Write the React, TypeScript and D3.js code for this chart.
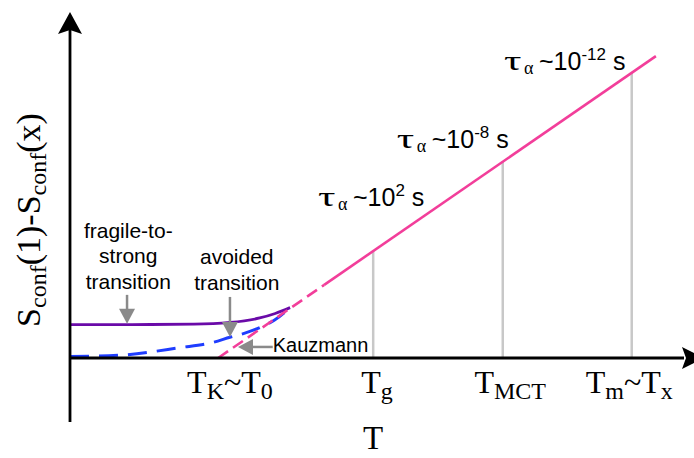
import React from "react";
import * as d3 from "d3";

// ---- data (abstract units: T along x, S along y) ----
const pinkT = [2.39, 4.1, 9.45];
const pinkS = [0, 2.12, 8.75];

const purpleT = [0, 1.0, 2.0, 2.58, 3.06, 3.31, 3.55];
const purpleS = [0.97, 0.97, 0.98, 1.03, 1.16, 1.29, 1.46];

const blueT = [0, 0.8, 1.77, 2.3, 2.58, 2.82, 3.06, 3.3, 3.55];
const blueS = [0.04, 0.08, 0.3, 0.45, 0.6, 0.72, 0.88, 1.1, 1.46];

const guideT = [4.89, 6.98, 9.06];

const tickT = [2.58, 4.95, 7.1, 9.02];
const tickMain = ["T", "T", "T", "T"];
const tickSub = ["K", "g", "MCT", "m"];
const tickTail = ["~T", "", "", "~T"];
const tickTailSub = ["0", "", "", "x"];

const tauT = [4.0, 5.27, 7.0];
const tauS = [4.41, 6.09, 8.35];
const tauExp = ["2", "-8", "-12"];

const W = 694;
const H = 458;

export default function App() {
  const x = d3.scaleLinear().domain([0, 10]).range([70, 690]);
  const y = d3.scaleLinear().domain([0, 10]).range([358, 13]);
  const pinkFn = d3.scaleLinear().domain([pinkT[0], pinkT[2]]).range([pinkS[0], pinkS[2]]);

  const curve = d3
    .line<[number, number]>()
    .x((d) => x(d[0]))
    .y((d) => y(d[1]))
    .curve(d3.curveMonotoneX);
  const straight = d3
    .line<[number, number]>()
    .x((d) => x(d[0]))
    .y((d) => y(d[1]));

  const purple = curve(purpleT.map((t, i) => [t, purpleS[i]] as [number, number])) || "";
  const blue = curve(blueT.map((t, i) => [t, blueS[i]] as [number, number])) || "";
  const pinkDash = straight([[pinkT[0], pinkS[0]], [pinkT[1], pinkS[1]]]) || "";
  const pinkSolid = straight([[pinkT[1], pinkS[1]], [pinkT[2], pinkS[2]]]) || "";

  const axisY = y(0);
  const axisX = x(0);
  const gray = "#8a8a8a";
  const sans = "'Liberation Sans', Arial, sans-serif";
  const serif = "'Liberation Serif', 'Times New Roman', serif";

  const vArrow = (t: number, s0: number, s1: number) => {
    const px = x(t), y0 = y(s0), y1 = y(s1);
    return (
      <g>
        <line x1={px} x2={px} y1={y0} y2={y1 - 13} stroke={gray} strokeWidth={2.5} />
        <path d={`M${px},${y1} L${px - 8},${y1 - 15} L${px + 8},${y1 - 15} Z`} fill={gray} />
      </g>
    );
  };

  return (
    <svg width={W} height={H} style={{ position: "absolute", left: 0, top: 0, background: "#fff" }}>
      <rect width={W} height={H} fill="#fff" />
      {/* guide lines */}
      {guideT.map((t, i) => (
        <line key={i} x1={x(t)} x2={x(t)} y1={axisY} y2={y(pinkFn(t))} stroke="#c8c8c8" strokeWidth={2.5} />
      ))}
      {/* curves */}
      <path d={blue} fill="none" stroke="#1f3dff" strokeWidth={3} strokeDasharray="19 10" />
      <path d={purple} fill="none" stroke="#6a0aa8" strokeWidth={2.8} />
      <path d={pinkDash} fill="none" stroke="#f23e9a" strokeWidth={2.6} strokeDasharray="12 6" />
      <path d={pinkSolid} fill="none" stroke="#f23e9a" strokeWidth={2.6} />

      {/* axes */}
      <line x1={axisX} x2={axisX} y1={422} y2={28} stroke="#000" strokeWidth={2.8} />
      <path d={`M${axisX},12 L${axisX - 12},34 L${axisX},30 L${axisX + 12},34 Z`} fill="#000" />
      <line x1={axisX} x2={684} y1={axisY} y2={axisY} stroke="#000" strokeWidth={2.8} />
      <path d={`M704,${axisY} L682,${axisY - 11} L686,${axisY} L682,${axisY + 11} Z`} fill="#000" />

      {/* tick labels */}
      {tickT.map((t, i) => (
        <text key={i} x={x(t)} y={axisY + 35} textAnchor="middle" fontFamily={serif} fontSize={32} fill="#000">
          {tickMain[i]}
          <tspan fontSize={24} dy={6}>{tickSub[i]}</tspan>
          {tickTail[i] ? (
            <>
              <tspan fontSize={32} dy={-6}>{tickTail[i]}</tspan>
              <tspan fontSize={24} dy={6}>{tickTailSub[i]}</tspan>
            </>
          ) : null}
        </text>
      ))}
      {/* axis titles */}
      <text x={373} y={449} textAnchor="middle" fontFamily={serif} fontSize={33} fill="#000">T</text>
      <text transform="translate(40,220) rotate(-90)" textAnchor="middle" fontFamily={serif} fontSize={34} fill="#000">
        S<tspan fontSize={24} dy={6}>conf</tspan>
        <tspan dy={-6}>(1)-S</tspan>
        <tspan fontSize={24} dy={6}>conf</tspan>
        <tspan dy={-6}>(x)</tspan>
      </text>

      {/* tau labels */}
      {tauT.map((t, i) => (
        <g key={i} transform={`translate(${x(t)},${y(tauS[i])})`}>
          <text x={0} y={0} fontFamily={serif} fontSize={28} fill="#000" transform="scale(1.55,1)">τ</text>
          <text x={20} y={4} fontFamily={serif} fontSize={18} fill="#000">α</text>
          <text x={35} y={0} fontFamily={sans} fontSize={25} fill="#000">
            ~10<tspan fontSize={17} dy={-10}>{tauExp[i]}</tspan>
            <tspan fontSize={25} dy={10}> s</tspan>
          </text>
        </g>
      ))}

      {/* annotations */}
      <g fontFamily={sans} fontSize={21} fill="#000" textAnchor="middle">
        <text x={x(0.94)} y={y(3.48)}>fragile-to-</text>
        <text x={x(0.94)} y={y(2.75)}>strong</text>
        <text x={x(0.94)} y={y(2.0)}>transition</text>
        <text x={x(2.69)} y={y(2.72)}>avoided</text>
        <text x={x(2.69)} y={y(1.97)}>transition</text>
        <text x={x(3.27)} y={y(0.17)} textAnchor="start" fontSize={20}>Kauzmann</text>
      </g>
      {vArrow(0.92, 1.83, 0.99)}
      {vArrow(2.58, 1.77, 0.61)}
      <g>
        <line x1={x(3.27)} x2={x(2.71) + 13} y1={y(0.32)} y2={y(0.32)} stroke={gray} strokeWidth={2.5} />
        <path
          d={`M${x(2.71)},${y(0.32)} L${x(2.71) + 15},${y(0.32) - 8} L${x(2.71) + 15},${y(0.32) + 8} Z`}
          fill={gray}
        />
      </g>
    </svg>
  );
}
